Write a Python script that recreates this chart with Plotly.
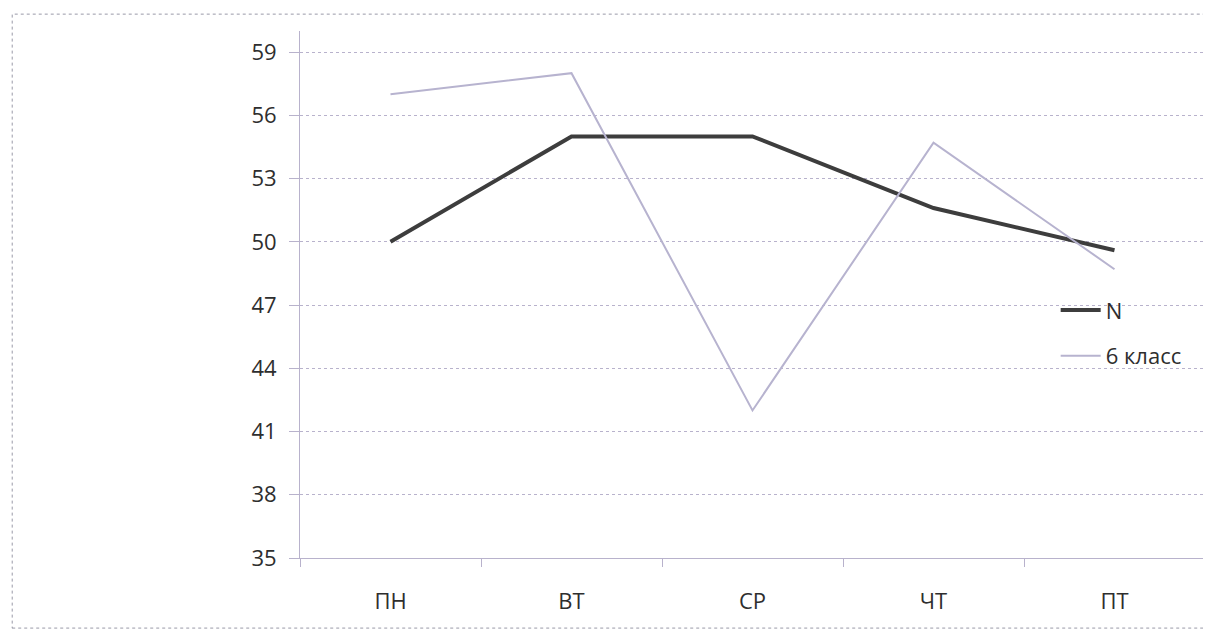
import plotly.graph_objects as go

days = ["ПН", "ВТ", "СР", "ЧТ", "ПТ"]
n_values = [50, 55, 55, 51.6, 49.6]
class6_values = [57, 58, 42, 54.7, 48.7]
y_ticks = [35, 38, 41, 44, 47, 50, 53, 56, 59]

grid_col = "#b8b2cc"
font_fam = "Open Sans, Liberation Sans, sans-serif"

fig = go.Figure()
fig.add_trace(go.Scatter(x=days, y=n_values, name="N", mode="lines",
                         line=dict(color="#3d3d3d", width=4), legendgroup="a"))
fig.add_trace(go.Scatter(x=days, y=class6_values, name="6 класс", mode="lines",
                         line=dict(color="#b7b3cf", width=2), legendgroup="b"))

fig.update_layout(
    width=1211, height=638,
    margin=dict(l=292, r=14, t=23, b=88),
    paper_bgcolor="white", plot_bgcolor="white",
    font=dict(family=font_fam, size=22, color="#2e2e2e"),
    showlegend=True,
    legend=dict(x=0.835, y=0.51, xanchor="left", yanchor="top",
                bgcolor="rgba(0,0,0,0)", tracegroupgap=14,
                font=dict(size=22, color="#2e2e2e"), itemwidth=40),
    xaxis=dict(type="category", range=[-0.5, 4.5], showgrid=False,
               showline=True, linecolor=grid_col, linewidth=1,
               ticks="outside", tickson="boundaries", ticklen=8,
               tickcolor=grid_col, ticklabelstandoff=24, zeroline=False),
    yaxis=dict(range=[35, 60], tickvals=y_ticks, showgrid=True,
               gridcolor=grid_col, gridwidth=1, griddash="dot",
               showline=True, linecolor=grid_col, linewidth=1,
               ticks="outside", ticklen=10, tickcolor=grid_col,
               ticklabelstandoff=8, zeroline=False),
    shapes=[dict(type="rect", xref="paper", yref="paper",
                 x0=-0.318, x1=1.0, y0=-0.133, y1=1.032,
                 line=dict(color="#9a9aa8", width=1, dash="dot"))],
)

fig.write_html("out.html")
